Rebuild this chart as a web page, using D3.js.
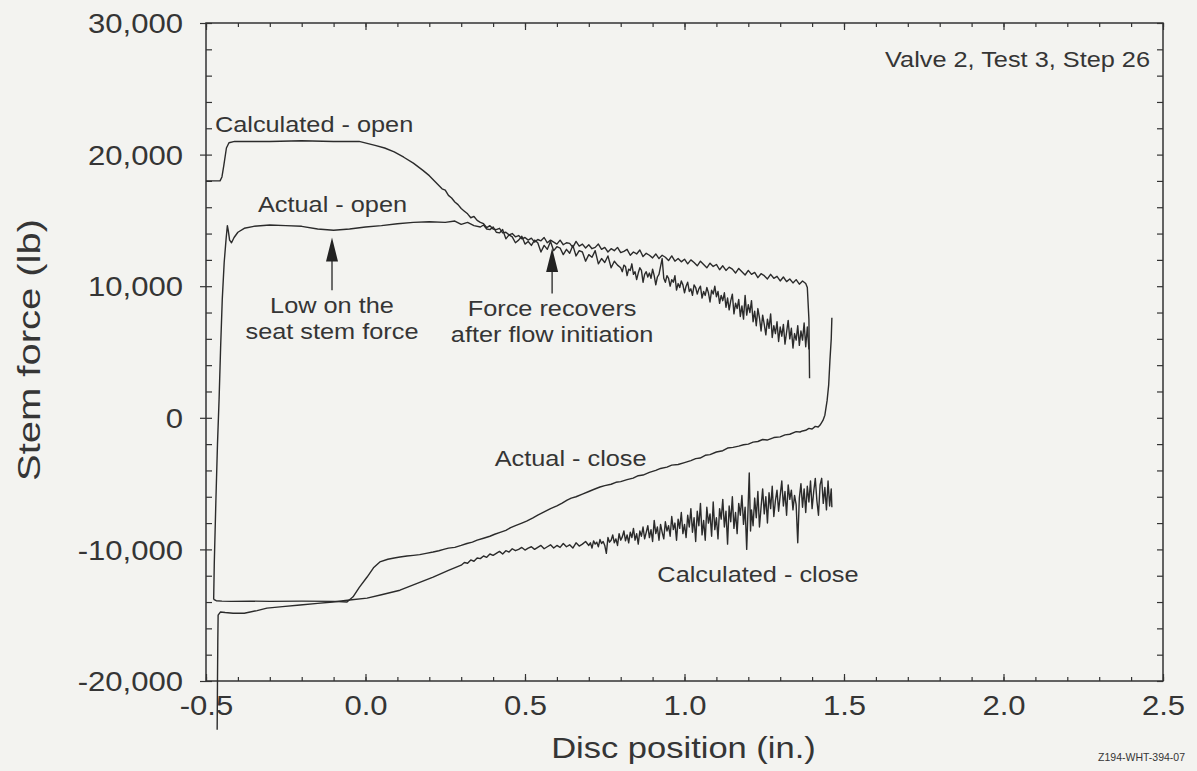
<!DOCTYPE html>
<html>
<head>
<meta charset="utf-8">
<script src="https://cdn.jsdelivr.net/npm/d3@7"></script>
<style>
  html, body { margin: 0; padding: 0; background: #f3f3f0; }
  svg { display: block; }
  text { font-family: "Liberation Sans", Arial, Helvetica, sans-serif; fill: #353535; }
</style>
</head>
<body>
<svg id="chart" width="1197" height="771"></svg>
<script>
// ---------------- data ----------------
const xTickValues = [-0.5, 0.0, 0.5, 1.0, 1.5, 2.0, 2.5];
const xTickLabels = ["-0.5", "0.0", "0.5", "1.0", "1.5", "2.0", "2.5"];
const yTickValues = [-20000, -10000, 0, 10000, 20000, 30000];
const yTickLabels = ["-20,000", "-10,000", "0", "10,000", "20,000", "30,000"];

const xTitle = "Disc position (in.)";
const yTitle = "Stem force (lb)";
const chartNote = "Valve 2, Test 3, Step 26";
const figureId = "Z194-WHT-394-07";

// Calculated - open  [disc position, stem force]
const calcOpen = [
 [-0.5,18000],[-0.456,18000],[-0.45,18300],[-0.444,19200],[-0.436,20500],[-0.428,20900],[-0.41,21000],
 [-0.3,21000],[-0.2,21050],[-0.1,21000],[-0.02,21000],[0.005,20850],[0.03,20700],[0.06,20500],[0.09,20200],
 [0.12,19800],[0.15,19350],[0.18,18800],[0.2,18400],[0.22,17900],[0.24,17400],[0.25,17300],[0.26,16900],
 [0.27,16700],[0.28,16400],[0.29,16200],[0.30,15900],[0.31,15700],[0.32,15500],[0.33,15200],[0.34,15300],
 [0.35,15000],[0.36,14850],[0.37,14750],[0.38,14450],[0.39,14600],[0.40,14350],[0.41,14300],[0.42,14400],
 [0.43,14050],[0.44,14100],[0.45,13900],[0.46,14000],[0.47,13750],[0.48,13850],[0.49,13600],[0.50,13700],
 [0.51,13500],[0.52,13650],[0.53,13350],[0.54,13550],[0.55,13450],[0.56,13700],[0.57,13300],[0.58,13500],
 [0.59,13350],[0.60,13200],[0.61,13500],[0.62,13150],[0.63,13300],[0.64,13250],[0.65,12950],[0.66,13400],
 [0.67,13050],[0.68,13200],[0.69,12900],[0.70,13150],[0.71,12850],[0.72,12950],[0.73,13200],[0.74,12800],
 [0.75,12950],[0.76,12600],[0.77,12850],[0.78,12700],[0.79,12950],[0.80,12550],[0.81,12650],[0.82,12800],
 [0.83,12350],[0.84,12600],[0.85,12450],[0.86,12750],[0.87,12250],[0.88,12500],[0.89,12350],[0.90,12150],
 [0.91,12450],[0.92,12100],[0.93,12350],[0.94,12200],[0.95,11950],[0.96,12300],[0.97,11900],[0.98,12100],
 [0.99,11850],[1.00,12050],[1.01,11700],[1.02,12000],[1.03,11800],[1.04,11550],[1.05,11900],[1.06,11650],
 [1.07,11400],[1.08,11750],[1.09,11500],[1.10,11650],[1.11,11250],[1.12,11550],[1.13,11200],[1.14,11450],
 [1.15,11300],[1.16,11000],[1.17,11350],[1.18,11100],[1.19,10850],[1.20,11200],[1.21,10900],[1.22,11050],
 [1.23,10650],[1.24,10950],[1.25,10800],[1.26,10550],[1.27,10900],[1.28,10600],[1.29,10750],[1.30,10400],
 [1.31,10700],[1.32,10350],[1.33,10550],[1.34,10250],[1.35,10500],[1.36,10150],[1.37,10400],[1.38,10200],
 [1.385,9900],[1.39,7500],[1.392,3000]
];

// Actual - open
const actualOpen = [
 [-0.476,-13800],[-0.474,-11000],[-0.469,-6300],[-0.464,-2000],[-0.459,1400],[-0.454,5500],[-0.449,9000],
 [-0.443,11800],[-0.437,13600],[-0.433,14600],[-0.430,14200],[-0.426,13500],[-0.420,13300],[-0.412,13700],
 [-0.400,14100],[-0.38,14400],[-0.35,14550],[-0.3,14650],[-0.25,14600],[-0.2,14550],[-0.15,14350],
 [-0.1,14250],[-0.05,14350],[0.0,14500],[0.05,14600],[0.1,14750],[0.15,14850],[0.2,14900],[0.25,14850],
 [0.28,14950],[0.30,14700],[0.32,14850],[0.34,14600],
 [0.36,14500],[0.37,14650],[0.38,14350],[0.39,14300],[0.40,14500],[0.41,14100],[0.42,14050],[0.43,14300],
 [0.44,13600],[0.45,13900],[0.46,13750],[0.47,13300],[0.48,13500],[0.49,13800],[0.50,13200],[0.51,13400],
 [0.52,13100],[0.53,13500],[0.54,13300],[0.55,12600],[0.56,13100],[0.57,12800],[0.58,13400],[0.59,12700],
 [0.60,13000],[0.61,12900],[0.62,12400],[0.63,12800],[0.64,12500],[0.65,13100],[0.66,12300],[0.67,12700],
 [0.68,12600],[0.69,11900],[0.70,12400],[0.71,12200],[0.72,12700],[0.73,11700],[0.74,12100],[0.75,11800],
 [0.76,12300],[0.77,11400],[0.78,11900],[0.79,11600],
 [0.800,11400],[0.805,11100],[0.810,11600],[0.815,11500],[0.820,10800],[0.825,11300],[0.830,11200],
 [0.835,11700],[0.840,10900],[0.845,11100],[0.850,10500],[0.855,11000],[0.860,11400],[0.865,11200],
 [0.870,10300],[0.875,10900],[0.880,11100],[0.885,10700],[0.890,11000],[0.895,10600],[0.900,11300],
 [0.905,10800],[0.910,10100],[0.915,10700],[0.920,10900],[0.925,11500],[0.930,12100],[0.935,10600],
 [0.940,10300],[0.945,10800],[0.950,10600],[0.955,10000],[0.960,10500],[0.965,10300],[0.970,10800],
 [0.975,9700],[0.980,10200],[0.985,9900],[0.990,10400],[0.995,10100],[1.000,9500],[1.005,10000],
 [1.010,10300],[1.015,9600],[1.020,9800],[1.025,9300],[1.030,10100],[1.035,9900],[1.040,9400],
 [1.045,9800],[1.050,10000],[1.055,9100],[1.060,9600],[1.065,9300],[1.070,9900],[1.075,9500],
 [1.080,8800],[1.085,9700],[1.090,9400],[1.095,10000],[1.100,9200],[1.105,9600],[1.110,8700],
 [1.115,9300],[1.120,8900],[1.125,9500],[1.130,8400],[1.135,9100],[1.140,8200],[1.145,8900],
 [1.150,9400],[1.155,7900],[1.160,8700],[1.165,8300],[1.170,9000],[1.175,7700],[1.180,8500],
 [1.185,7500],[1.190,9300],[1.195,7800],[1.200,8600],[1.205,8000],[1.210,8900],[1.215,7300],
 [1.220,8100],[1.225,7000],[1.230,8300],[1.235,7600],[1.240,6600],[1.245,7800],[1.250,7100],
 [1.255,6300],[1.260,7500],[1.265,6800],[1.270,7900],[1.275,6100],[1.280,7000],[1.285,6400],
 [1.290,7300],[1.295,5800],[1.300,6900],[1.305,6200],[1.310,7100],[1.315,5600],[1.320,6500],
 [1.325,7400],[1.330,6000],[1.335,6800],[1.340,5300],[1.345,6400],[1.350,5900],[1.355,7000],
 [1.360,5500],[1.365,6600],[1.370,5900],[1.375,7200],[1.380,5400],[1.385,6900],[1.390,5200]
];

// Actual - close
const actualClose = [
 [1.462,7600],[1.460,6000],[1.456,4400],[1.452,2500],[1.447,1300],[1.44,200],[1.434,-200],[1.425,-550],
 [1.419,-700],[1.41,-650],[1.40,-850],[1.39,-800],[1.38,-950],[1.37,-1000],[1.362,-1080],[1.35,-1050],
 [1.33,-1250],[1.315,-1300],[1.30,-1450],[1.28,-1500],[1.259,-1690],[1.245,-1650],[1.23,-1800],
 [1.215,-1850],[1.20,-2000],[1.185,-2050],[1.17,-2150],[1.152,-2250],[1.135,-2300],[1.12,-2500],
 [1.10,-2600],[1.08,-2800],[1.065,-2850],[1.049,-3060],[1.035,-3100],[1.02,-3250],[1.00,-3400],
 [0.98,-3550],[0.96,-3600],[0.945,-3750],[0.925,-3850],[0.91,-4000],[0.89,-4150],[0.87,-4350],
 [0.855,-4400],[0.839,-4580],[0.82,-4700],[0.80,-4850],[0.785,-4900],[0.77,-5050],[0.75,-5150],
 [0.735,-5260],[0.715,-5450],[0.70,-5600],[0.68,-5800],[0.66,-6000],[0.645,-6100],[0.632,-6250],
 [0.615,-6500],[0.60,-6700],[0.58,-6900],[0.56,-7150],[0.54,-7400],[0.525,-7600],[0.505,-7850],
 [0.49,-8000],[0.47,-8200],[0.455,-8350],[0.44,-8550],[0.422,-8700],[0.405,-8850],[0.39,-9000],
 [0.37,-9150],[0.35,-9300],[0.335,-9450],[0.318,-9550],[0.30,-9700],[0.28,-9850],[0.26,-9900],
 [0.245,-10000],[0.23,-10100],[0.212,-10200],[0.19,-10300],[0.17,-10400],[0.15,-10450],[0.13,-10500],
 [0.108,-10580],[0.09,-10650],[0.07,-10750],[0.045,-10950],[0.025,-11400],[0.005,-12100],
 [-0.02,-12900],[-0.039,-13600],[-0.058,-14000],[-0.1,-13950],[-0.2,-13930],[-0.3,-13950],
 [-0.362,-13930],[-0.42,-13950],[-0.45,-13930],[-0.468,-13900],[-0.476,-13800]
];

// Calculated - close
const calcClose = [
 [-0.465,-23700],[-0.464,-20000],[-0.463,-17000],[-0.462,-15000],[-0.455,-14760],[-0.44,-14800],
 [-0.415,-14850],[-0.38,-14850],[-0.34,-14650],[-0.309,-14460],[-0.26,-14350],[-0.205,-14230],
 [-0.15,-14100],[-0.102,-14000],[-0.05,-13850],[0.005,-13700],[0.05,-13450],[0.108,-13100],[0.16,-12600],
 [0.212,-12100],[0.26,-11600],[0.30,-11200],
 [0.31,-11000],[0.32,-11050],[0.33,-10800],[0.34,-10900],[0.35,-10650],[0.36,-10700],[0.37,-10500],
 [0.38,-10600],[0.39,-10350],[0.40,-10450],[0.41,-10300],[0.42,-10150],[0.43,-10350],[0.44,-10100],
 [0.45,-10200],[0.46,-9950],[0.47,-10100],[0.48,-10000],[0.49,-9850],[0.50,-10050],[0.51,-9900],
 [0.52,-9800],[0.53,-10000],[0.54,-9850],[0.55,-9700],[0.56,-9950],[0.57,-9800],[0.58,-9650],
 [0.59,-9900],[0.60,-9700],[0.61,-9850],[0.62,-9550],[0.63,-9800],[0.64,-9650],[0.65,-9900],
 [0.66,-9500],[0.67,-9750],[0.68,-9600],[0.69,-9400],[0.70,-9700],
 [0.705,-9500],[0.710,-9900],[0.715,-9350],[0.720,-9600],[0.725,-9450],[0.730,-9800],[0.735,-9250],
 [0.740,-9550],[0.745,-9400],[0.750,-9700],[0.755,-10300],[0.760,-9100],[0.765,-9450],[0.770,-9300],
 [0.775,-8900],[0.780,-9500],[0.785,-9200],[0.790,-9700],[0.795,-8800],[0.800,-9300],[0.805,-9050],
 [0.810,-8600],[0.815,-9350],[0.820,-8900],[0.825,-9500],[0.830,-8700],[0.835,-9100],[0.840,-8400],
 [0.845,-9300],[0.850,-8800],[0.855,-9600],[0.860,-8600],[0.865,-9000],[0.870,-8300],[0.875,-9200],
 [0.880,-8700],[0.885,-8200],[0.890,-9100],[0.895,-8500],[0.900,-9400],[0.905,-7800],[0.910,-8800],
 [0.915,-8300],[0.920,-9300],[0.925,-8100],[0.930,-8700],[0.935,-9200],[0.940,-7900],[0.945,-8600],
 [0.950,-8200],[0.955,-9000],[0.960,-7500],[0.965,-8500],[0.970,-8000],[0.975,-9300],[0.980,-7700],
 [0.985,-8400],[0.990,-7200],[0.995,-8800],[1.000,-8100],[1.005,-9100],[1.010,-7400],[1.015,-8300],
 [1.020,-6900],[1.025,-8700],[1.030,-7600],[1.035,-9400],[1.040,-7100],[1.045,-8200],[1.050,-6500],
 [1.055,-8900],[1.060,-7800],[1.065,-9300],[1.070,-6800],[1.075,-8000],[1.080,-7300],[1.085,-9000],
 [1.090,-6400],[1.095,-8500],[1.100,-7600],[1.105,-9200],[1.110,-6900],[1.115,-7700],[1.120,-6200],
 [1.125,-8300],[1.130,-7100],[1.135,-9600],[1.140,-6700],[1.145,-7900],[1.150,-6000],[1.155,-8400],
 [1.160,-7200],[1.165,-8800],[1.170,-6500],[1.175,-7400],[1.180,-5900],[1.185,-8100],[1.190,-6800],
 [1.195,-10000],[1.200,-6300],[1.203,-4200],[1.207,-8600],[1.210,-7000],[1.215,-8200],[1.220,-6100],
 [1.225,-7600],[1.230,-5600],[1.235,-8300],[1.240,-6800],[1.245,-5400],[1.250,-7300],[1.255,-6000],
 [1.260,-8000],[1.265,-5700],[1.270,-6900],[1.275,-5200],[1.280,-7500],[1.285,-6300],[1.290,-5500],
 [1.295,-7100],[1.300,-5900],[1.305,-4800],[1.310,-6700],[1.315,-5600],[1.320,-7400],[1.325,-5100],
 [1.330,-6200],[1.335,-5500],[1.340,-7000],[1.345,-5900],[1.350,-6600],[1.355,-9500],[1.360,-6100],
 [1.365,-5000],[1.370,-6800],[1.375,-5400],[1.380,-7200],[1.385,-5200],[1.390,-6400],[1.395,-4800],
 [1.400,-6900],[1.405,-5600],[1.410,-4600],[1.415,-6300],[1.420,-7400],[1.425,-5100],[1.430,-4600],
 [1.435,-6500],[1.440,-5300],[1.445,-7000],[1.450,-4800],[1.455,-6700],[1.460,-5400],[1.462,-6800]
];

// curve labels: [text, x, y] in data units
const curveLabels = [
 ["Calculated - open", -0.472, 21700],
 ["Actual - open", -0.337, 15650],
 ["Actual - close", 0.405, -3700],
 ["Calculated - close", 0.915, -12500]
];
// arrow annotations: lines of text, arrow x, arrow tip y, arrow tail y
const arrowNotes = [
 {lines: ["Low on the", "seat stem force"], x: -0.105, tip: 13700, tail: 9700},
 {lines: ["Force recovers", "after flow initiation"], x: 0.585, tip: 12900, tail: 9450}
];

// ---------------- layout ----------------
const svg = d3.select("#chart");
const mLeft = 206, mTop = 23, mRight = 1163, mBottom = 681;
const x = d3.scaleLinear().domain([-0.5, 2.5]).range([mLeft, mRight]);
const y = d3.scaleLinear().domain([-20000, 30000]).range([mBottom, mTop]);
const ink = "#333";
const STRETCH = 1.15;

function stretch(sel, k) {
  sel.each(function () {
    const w = this.getComputedTextLength();
    this.setAttribute("textLength", w * k);
    this.setAttribute("lengthAdjust", "spacingAndGlyphs");
  });
}

// minor ticks
const xMinor = d3.range(-0.5, 2.5001, 0.1);
const yMinor = d3.range(-20000, 30001, 2000);

function styleAxis(g) {
  g.select(".domain").remove();
  g.selectAll(".tick line").attr("stroke", ink).attr("stroke-width", 1.2);
  g.selectAll(".tick text").remove();
}

// bottom
svg.append("g").attr("transform", `translate(0,${mBottom})`)
  .call(d3.axisBottom(x).tickValues(xMinor).tickSize(-4)).call(styleAxis);
svg.append("g").attr("transform", `translate(0,${mBottom})`)
  .call(d3.axisBottom(x).tickValues(xTickValues).tickSize(-7)).call(styleAxis);
// top
svg.append("g").attr("transform", `translate(0,${mTop})`)
  .call(d3.axisTop(x).tickValues(xMinor).tickSize(-4)).call(styleAxis);
svg.append("g").attr("transform", `translate(0,${mTop})`)
  .call(d3.axisTop(x).tickValues(xTickValues).tickSize(-7)).call(styleAxis);
// left
svg.append("g").attr("transform", `translate(${mLeft},0)`)
  .call(d3.axisLeft(y).tickValues(yMinor).tickSize(-6)).call(styleAxis);
svg.append("g").attr("transform", `translate(${mLeft},0)`)
  .call(d3.axisLeft(y).tickValues(yTickValues).tickSize(6)).call(styleAxis);
// right
svg.append("g").attr("transform", `translate(${mRight},0)`)
  .call(d3.axisRight(y).tickValues(yMinor).tickSize(-6)).call(styleAxis);

// frame
svg.append("rect").attr("x", mLeft).attr("y", mTop)
  .attr("width", mRight - mLeft).attr("height", mBottom - mTop)
  .attr("fill", "none").attr("stroke", ink).attr("stroke-width", 1.5);

// tick labels via axes
const yLab = svg.append("g").attr("transform", `translate(${mLeft},0)`)
  .call(d3.axisLeft(y).tickValues(yTickValues).tickSize(0).tickPadding(23)
    .tickFormat((d, i) => yTickLabels[i]));
yLab.select(".domain").remove();
yLab.selectAll("text").attr("font-size", 27).attr("font-family", null).attr("fill", "#353535")
  .attr("dy", "0.36em");
stretch(yLab.selectAll("text"), STRETCH);

const xLab = svg.append("g").attr("transform", `translate(0,${mBottom})`)
  .call(d3.axisBottom(x).tickValues(xTickValues).tickSize(0).tickPadding(15)
    .tickFormat((d, i) => xTickLabels[i]));
xLab.select(".domain").remove();
xLab.selectAll("text").attr("font-size", 27).attr("font-family", null).attr("fill", "#353535")
  .attr("dy", "0.71em");
stretch(xLab.selectAll("text"), STRETCH);

// axis titles
const xt = svg.append("text").attr("x", (mLeft + mRight) / 2 - 1).attr("y", 758)
  .attr("text-anchor", "middle").attr("font-size", 30).text(xTitle);
stretch(xt, STRETCH);
const yt = svg.append("text").attr("transform", "translate(40,350) rotate(-90)")
  .attr("text-anchor", "middle").attr("font-size", 31).text(yTitle);
yt.attr("textLength", 262).attr("lengthAdjust", "spacingAndGlyphs");

// note
const nt = svg.append("text").attr("x", 1150).attr("y", 67)
  .attr("text-anchor", "end").attr("font-size", 22).text(chartNote);
stretch(nt, STRETCH);

// figure id
svg.append("text").attr("x", 1185).attr("y", 761)
  .attr("text-anchor", "end").attr("font-size", 10.5).attr("fill", "#444").text(figureId);

// curves
const line = d3.line().x(d => x(d[0])).y(d => y(d[1]));
[calcOpen, actualOpen, actualClose, calcClose].forEach(s => {
  svg.append("path").datum(s).attr("d", line)
    .attr("fill", "none").attr("stroke", "#2b2b2b").attr("stroke-width", 1.4)
    .attr("stroke-linejoin", "round");
});

// curve labels
curveLabels.forEach(([t, lx, ly]) => {
  const el = svg.append("text").attr("x", x(lx)).attr("y", y(ly))
    .attr("font-size", 22).text(t);
  stretch(el, STRETCH);
});

// arrows
arrowNotes.forEach(n => {
  const ax = x(n.x), tipY = y(n.tip), tailY = y(n.tail);
  svg.append("line").attr("x1", ax).attr("x2", ax).attr("y1", tailY).attr("y2", tipY + 20)
    .attr("stroke", ink).attr("stroke-width", 1.4);
  svg.append("path")
    .attr("d", `M${ax},${tipY} L${ax - 6},${tipY + 24} L${ax + 6},${tipY + 24} Z`)
    .attr("fill", "#222");
  n.lines.forEach((ln, i) => {
    const el = svg.append("text").attr("x", ax).attr("y", tailY + 23 + i * 26)
      .attr("text-anchor", "middle").attr("font-size", 22).text(ln);
    stretch(el, STRETCH);
  });
});
</script>
</body>
</html>
